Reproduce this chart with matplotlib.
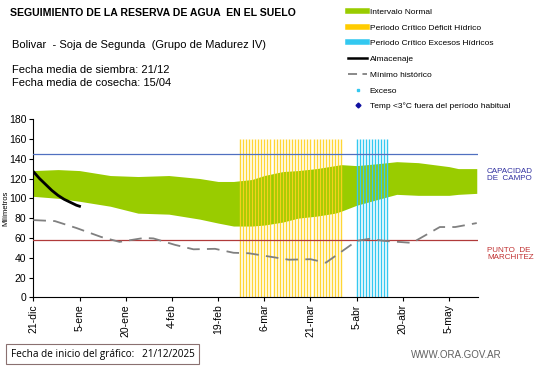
import matplotlib.pyplot as plt
import numpy as np
from matplotlib.lines import Line2D

plt.rcParams['font.family'] = ['Liberation Sans', 'DejaVu Sans']

# days since 21-dic
tick_days = [0, 15, 30, 45, 60, 75, 90, 105, 120, 135]
tick_labels = ["21-dic", "5-ene", "20-ene", "4-feb", "19-feb", "6-mar",
               "21-mar", "5-abr", "20-abr", "5-may"]

band_days = [0, 8, 15, 25, 34, 44, 54, 60, 65, 71, 75, 81, 86, 92, 98, 100,
             105, 112, 118, 125, 130, 135, 138, 144]
band_upper = [128, 129, 128, 123, 122, 123, 120, 117, 117, 119, 123, 127, 128,
              130, 133, 134, 133, 135, 137, 136, 134, 132, 130, 130]
band_lower = [102, 100, 97, 92, 85, 84, 79, 75, 72, 72, 73, 76, 80, 82, 85, 87,
              93, 99, 104, 103, 103, 103, 104, 105]

alm_days = [0, 2, 4, 6, 8, 10, 12, 14, 15]
alm_vals = [127, 120, 114, 108, 103, 99, 96, 93, 92]

min_days = [0, 7, 14, 22, 28, 36, 39, 46, 52, 59, 65, 70, 75, 83, 90, 95,
            105, 109, 114, 123, 132, 137, 144]
min_vals = [78, 77, 70, 61, 56, 60, 59.5, 53, 48.5, 49, 45, 44.5, 42, 38, 38.5,
            35, 57, 59, 57, 55, 71, 71, 75]

deficit_days = list(range(67, 101))
exceso_days = list(range(105, 116))

cap_campo = 145
marchitez = 58

fig = plt.figure(figsize=(5.41, 3.68), dpi=100)
ax = fig.add_axes([0.0616, 0.192, 0.8225, 0.4844])

ax.fill_between(band_days, band_lower, band_upper, color='#99CC00', lw=0, zorder=1)
ax.vlines(deficit_days, 0, 160, color='#FFD21F', lw=1.0, alpha=0.9, zorder=2)
ax.vlines(exceso_days, 0, 160, color='#33C8F0', lw=1.0, zorder=2)
ax.axhline(cap_campo, color='#5070C0', lw=0.9, zorder=3)
ax.axhline(marchitez, color='#B03A3A', lw=0.9, zorder=3)
ax.plot(min_days, min_vals, color='#808080', lw=1.3, dashes=(7, 4), zorder=4)
ax.plot(alm_days, alm_vals, color='black', lw=2, zorder=5)

ax.set_xlim(0, 144.5)
ax.set_ylim(0, 180)
ax.set_yticks(range(0, 181, 20))
ax.set_xticks(tick_days)
ax.set_xticklabels(tick_labels, rotation=90)
ax.tick_params(labelsize=7.5, length=3, width=0.8, pad=2)
for s in ['top', 'right']:
    ax.spines[s].set_visible(False)
ax.set_ylabel('Milímetros', fontsize=5.5, labelpad=0)

fig.text(0.018, 0.966, 'SEGUIMIENTO DE LA RESERVA DE AGUA  EN EL SUELO',
         fontsize=7.6, fontweight='bold', va='center')
fig.text(0.022, 0.878, 'Bolivar  - Soja de Segunda  (Grupo de Madurez IV)',
         fontsize=8, va='center')
fig.text(0.022, 0.81, 'Fecha media de siembra: 21/12', fontsize=8, va='center')
fig.text(0.022, 0.774, 'Fecha media de cosecha: 15/04', fontsize=8, va='center')

fig.text(0.9, 0.525, 'CAPACIDAD\nDE  CAMPO', fontsize=5.8, color='#3030A0',
         va='center', linespacing=1.1)
fig.text(0.9, 0.31, 'PUNTO  DE\nMARCHITEZ', fontsize=5.8, color='#C03030',
         va='center', linespacing=1.1)

handles = [
    Line2D([], [], color='#99CC00', lw=4),
    Line2D([], [], color='#FFCC00', lw=4),
    Line2D([], [], color='#33C8F0', lw=4),
    Line2D([], [], color='black', lw=1.8),
    Line2D([], [], color='#808080', lw=1.3, dashes=(5, 3)),
    Line2D([], [], color='#33C8F0', lw=0, marker='s', markersize=2),
    Line2D([], [], color='#1010A0', lw=0, marker='D', markersize=2.5),
]
labels = ['Intervalo Normal', 'Periodo Crítico Déficit Hídrico',
          'Periodo Crítico Excesos Hídricos', 'Almacenaje', 'Mínimo histórico',
          'Exceso', 'Temp <3°C fuera del período habitual']
fig.legend(handles, labels, loc='upper left', bbox_to_anchor=(0.634, 0.992),
           frameon=False, fontsize=6, handlelength=2.3, handletextpad=0.3,
           labelspacing=0.95, borderaxespad=0.2)

fig.text(0.02, 0.037, 'Fecha de inicio del gráfico:   21/12/2025', fontsize=7.2,
         va='center', family=['Open Sans', 'DejaVu Sans'],
         bbox=dict(boxstyle='square,pad=0.45', fc='white', ec='#8A7070', lw=0.8))
fig.text(0.76, 0.035, 'WWW.ORA.GOV.AR', fontsize=7, color='#606060', va='center')

fig.savefig('out.png', dpi=100)
